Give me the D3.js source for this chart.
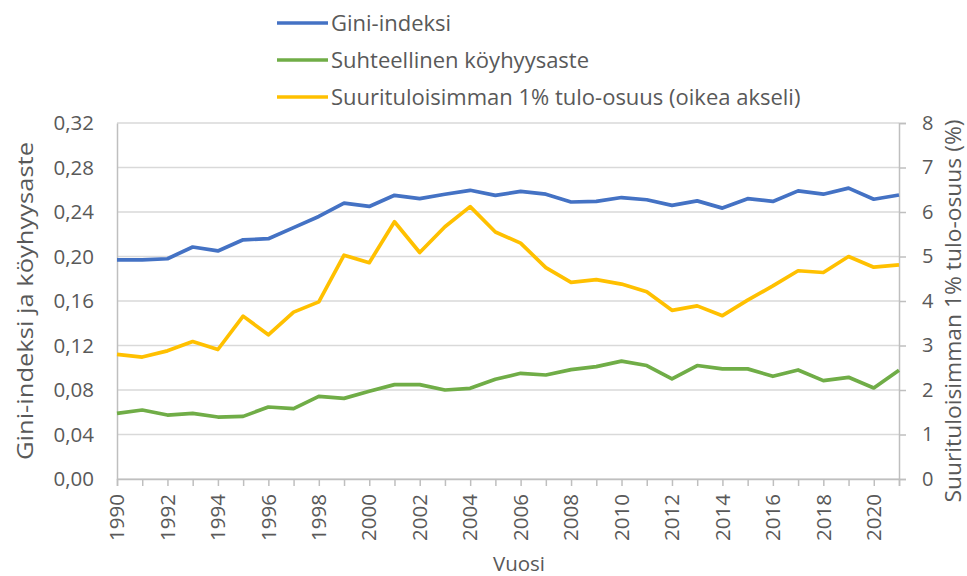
<!DOCTYPE html>
<html>
<head>
<meta charset="utf-8">
<script src="https://cdn.jsdelivr.net/npm/d3@7"></script>
<style>
  body { margin: 0; background: #fff; }
  text { font-family: "Open Sans", "Noto Sans", sans-serif; fill: #595959; }
</style>
</head>
<body>
<div id="chart"></div>
<script>
const years = d3.range(1990, 2022);

const gini = [
  0.197, 0.197, 0.198, 0.2085, 0.205, 0.215, 0.216, 0.226, 0.236, 0.248,
  0.245, 0.255, 0.252, 0.256, 0.2595, 0.255, 0.2585, 0.256, 0.249, 0.2495,
  0.253, 0.251, 0.246, 0.250, 0.2435, 0.252, 0.2495, 0.259, 0.256, 0.2615,
  0.2515, 0.2553,
];

const poverty = [
  0.059, 0.062, 0.0575, 0.059, 0.0557, 0.0563, 0.0647, 0.0632, 0.0743, 0.0725,
  0.0788, 0.0848, 0.0848, 0.080, 0.0815, 0.0896, 0.095, 0.0935, 0.0983, 0.101,
  0.106, 0.102, 0.090, 0.102, 0.099, 0.099, 0.0923, 0.098, 0.0884, 0.0914,
  0.0818, 0.0977,
];

const topShare = [
  2.80, 2.74, 2.88, 3.09, 2.91, 3.66, 3.24, 3.75, 3.98, 5.03,
  4.86, 5.78, 5.09, 5.67, 6.12, 5.55, 5.30, 4.75, 4.42, 4.48,
  4.38, 4.21, 3.79, 3.89, 3.67, 4.02, 4.34, 4.68, 4.64, 5.00,
  4.76, 4.81,
];

const leftTicks = [0, 0.04, 0.08, 0.12, 0.16, 0.2, 0.24, 0.28, 0.32];
const rightTicks = [0, 1, 2, 3, 4, 5, 6, 7, 8];
const labelYears = d3.range(1990, 2022, 2);

const series = [
  { name: 'Gini-indeksi', values: gini, axis: 'left', color: '#4472C4' },
  { name: 'Suhteellinen köyhyysaste', values: poverty, axis: 'left', color: '#70AD47' },
  { name: 'Suurituloisimman 1% tulo-osuus (oikea akseli)', values: topShare, axis: 'right', color: '#FFC000' },
];

const width = 967;
const height = 576;
const margin = { top: 123, right: 68, bottom: 97, left: 117 };

const svg = d3
  .select('#chart')
  .append('svg')
  .attr('width', width)
  .attr('height', height);

const x = d3
  .scaleLinear()
  .domain([1990, 2021])
  .range([margin.left, width - margin.right]);
const yLeft = d3
  .scaleLinear()
  .domain([0, 0.32])
  .range([height - margin.bottom, margin.top]);
const yRight = d3
  .scaleLinear()
  .domain([0, 8])
  .range([height - margin.bottom, margin.top]);

const fmt = (d) => d3.format('.2f')(d).replace('.', ',');

// gridlines
svg
  .append('g')
  .attr('class', 'grid')
  .selectAll('line')
  .data(leftTicks)
  .join('line')
  .attr('x1', margin.left)
  .attr('x2', width - margin.right)
  .attr('y1', (d) => yLeft(d))
  .attr('y2', (d) => yLeft(d))
  .attr('stroke', '#d9d9d9')
  .attr('stroke-width', 1.3);

// left axis
svg
  .append('g')
  .attr('transform', `translate(${margin.left},0)`)
  .call(d3.axisLeft(yLeft).tickValues(leftTicks).tickFormat(fmt).tickSize(0).tickPadding(23))
  .call((g) => g.select('.domain').attr('stroke', '#bfbfbf').attr('stroke-width', 1.5))
  .call((g) => g.selectAll('text').attr('font-size', 20.5).style('fill', '#595959'));

// right axis
svg
  .append('g')
  .attr('transform', `translate(${width - margin.right},0)`)
  .call(d3.axisRight(yRight).tickValues(rightTicks).tickSize(7).tickPadding(16))
  .call((g) => g.select('.domain').attr('stroke', '#bfbfbf').attr('stroke-width', 1.5))
  .call((g) => g.selectAll('.tick line').attr('stroke', '#bfbfbf').attr('stroke-width', 1.5))
  .call((g) => g.selectAll('text').attr('font-size', 20).style('fill', '#595959'));

// bottom axis: ticks every year, labels every second year
const xAxisG = svg
  .append('g')
  .attr('transform', `translate(0,${height - margin.bottom})`)
  .call(d3.axisBottom(x).tickValues(years).tickSize(7).tickFormat(''))
  .call((g) => g.select('.domain').attr('stroke', '#bfbfbf').attr('stroke-width', 1.5))
  .call((g) => g.selectAll('.tick line').attr('stroke', '#bfbfbf').attr('stroke-width', 1.5));

xAxisG
  .selectAll('text.year')
  .data(labelYears)
  .join('text')
  .attr('class', 'year')
  .attr('transform', (d) => `translate(${x(d)},15) rotate(-90)`)
  .attr('text-anchor', 'end')
  .attr('dy', '0.35em')
  .attr('font-size', 20.5)
  .text((d) => d);

// lines
const line = (scale) =>
  d3
    .line()
    .x((d, i) => x(years[i]))
    .y((d) => scale(d));

svg
  .append('g')
  .selectAll('path')
  .data(series)
  .join('path')
  .attr('fill', 'none')
  .attr('stroke', (d) => d.color)
  .attr('stroke-width', 3.7)
  .attr('stroke-linejoin', 'round')
  .attr('d', (d) => line(d.axis === 'left' ? yLeft : yRight)(d.values));

// axis titles (stretched a little along their length like the original)
svg
  .append('text')
  .attr('transform', `translate(33,301) rotate(-90)`)
  .attr('text-anchor', 'middle')
  .attr('font-size', 22)
  .attr('textLength', 318)
  .attr('lengthAdjust', 'spacingAndGlyphs')
  .text('Gini-indeksi ja köyhyysaste');

svg
  .append('text')
  .attr('transform', `translate(961,311) rotate(-90)`)
  .attr('text-anchor', 'middle')
  .attr('font-size', 22)
  .attr('textLength', 383)
  .attr('lengthAdjust', 'spacingAndGlyphs')
  .text('Suurituloisimman 1% tulo-osuus (%)');

svg
  .append('text')
  .attr('x', (margin.left + width - margin.right) / 2 + 11)
  .attr('y', 571)
  .attr('text-anchor', 'middle')
  .attr('font-size', 20.5)
  .text('Vuosi');

// legend
const legend = svg
  .append('g')
  .selectAll('g')
  .data(series)
  .join('g')
  .attr('transform', (d, i) => `translate(277,${23 + i * 37})`);

legend
  .append('line')
  .attr('x1', 0)
  .attr('x2', 51)
  .attr('stroke', (d) => d.color)
  .attr('stroke-width', 3.7);

legend
  .append('text')
  .attr('x', 54)
  .attr('dy', '0.35em')
  .attr('font-size', 22)
  .text((d) => d.name);
</script>
</body>
</html>
